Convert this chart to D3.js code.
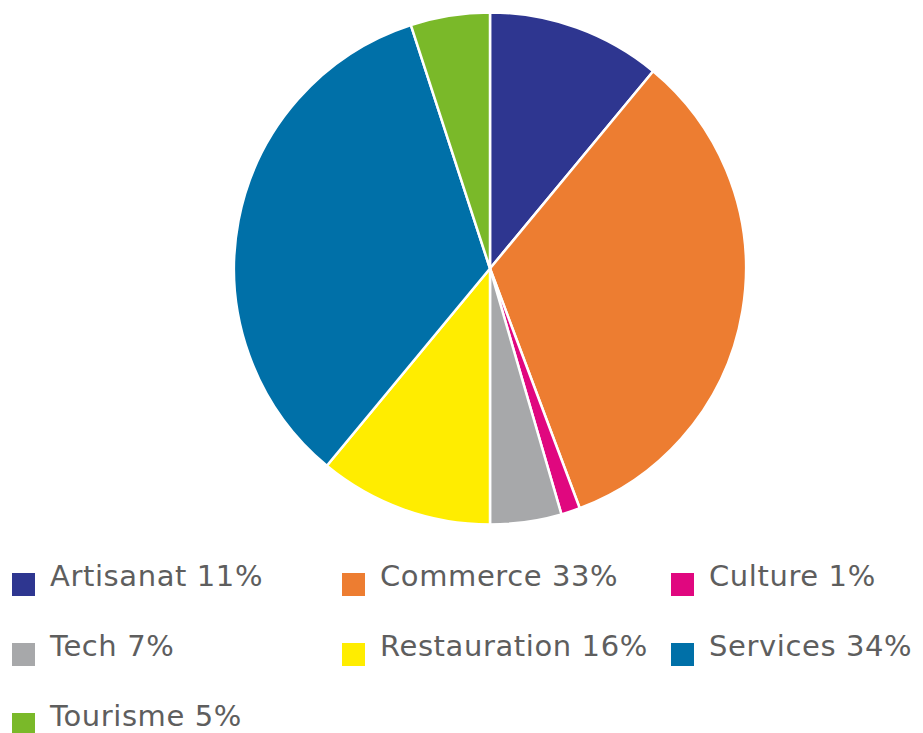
<html lang="fr">
<head>
  <meta charset="UTF-8"/>
  <title>Répartition par secteur</title>
  <script src="https://d3js.org/d3.v7.min.js"></script>
  <style>
    body { margin: 0; background: #fff; }
    svg { display: block; }
    .legend text { font-family: 'DejaVu Sans', sans-serif; fill: #5e5e5e; letter-spacing: 0.6px; }
  </style>
</head>
<body>
  <svg width="923" height="733"></svg>

  <script>

  const sectors = ['Artisanat', 'Commerce', 'Culture', 'Tech', 'Restauration', 'Services', 'Tourisme'];
  const shares = [11, 33, 1, 7, 16, 34, 5];
  const values = [11, 33.3, 1.2, 4.5, 11, 34, 5];
  const colors = ['#2e3690', '#ed7d31', '#e0077f', '#a7a8aa', '#ffed00', '#0070a8', '#7ab929'];

  const svg = d3.select('svg');

  const cx = 490;
  const cy = 268.5;
  const radius = 256;

  const data = sectors.map((s, i) => ({ name: s, share: shares[i], value: values[i], color: colors[i] }));

  const pie = d3.pie()
    .sort(null)
    .value((d) => d.value);

  const arc = d3.arc()
    .innerRadius(0)
    .outerRadius(radius);

  const chart = svg.append('g')
    .attr('transform', `translate(${cx}, ${cy})`);

  chart.selectAll('path')
    .data(pie(data))
    .enter()
    .append('path')
    .attr('d', arc)
    .attr('fill', (d) => d.data.color)
    .attr('stroke', '#fff')
    .attr('stroke-width', 2.5)
    .attr('stroke-linejoin', 'round');

  // légende sur 3 colonnes
  const colX = [12, 342, 671];
  const rowY = [573, 643, 713];
  const box = 23;

  const legend = svg.append('g')
    .attr('class', 'legend')
    .selectAll('g')
    .data(data)
    .enter()
    .append('g')
    .attr('transform', (d, i) => `translate(${colX[i % 3]}, ${rowY[Math.floor(i / 3)]})`);

  legend.append('rect')
    .attr('width', box)
    .attr('height', box)
    .attr('fill', (d) => d.color);

  legend.append('text')
    .attr('x', box + 15)
    .attr('y', 13)
    .attr('font-size', 29)
    .text((d) => `${d.name} ${d.share}%`);

  </script>
</body>
</html>
